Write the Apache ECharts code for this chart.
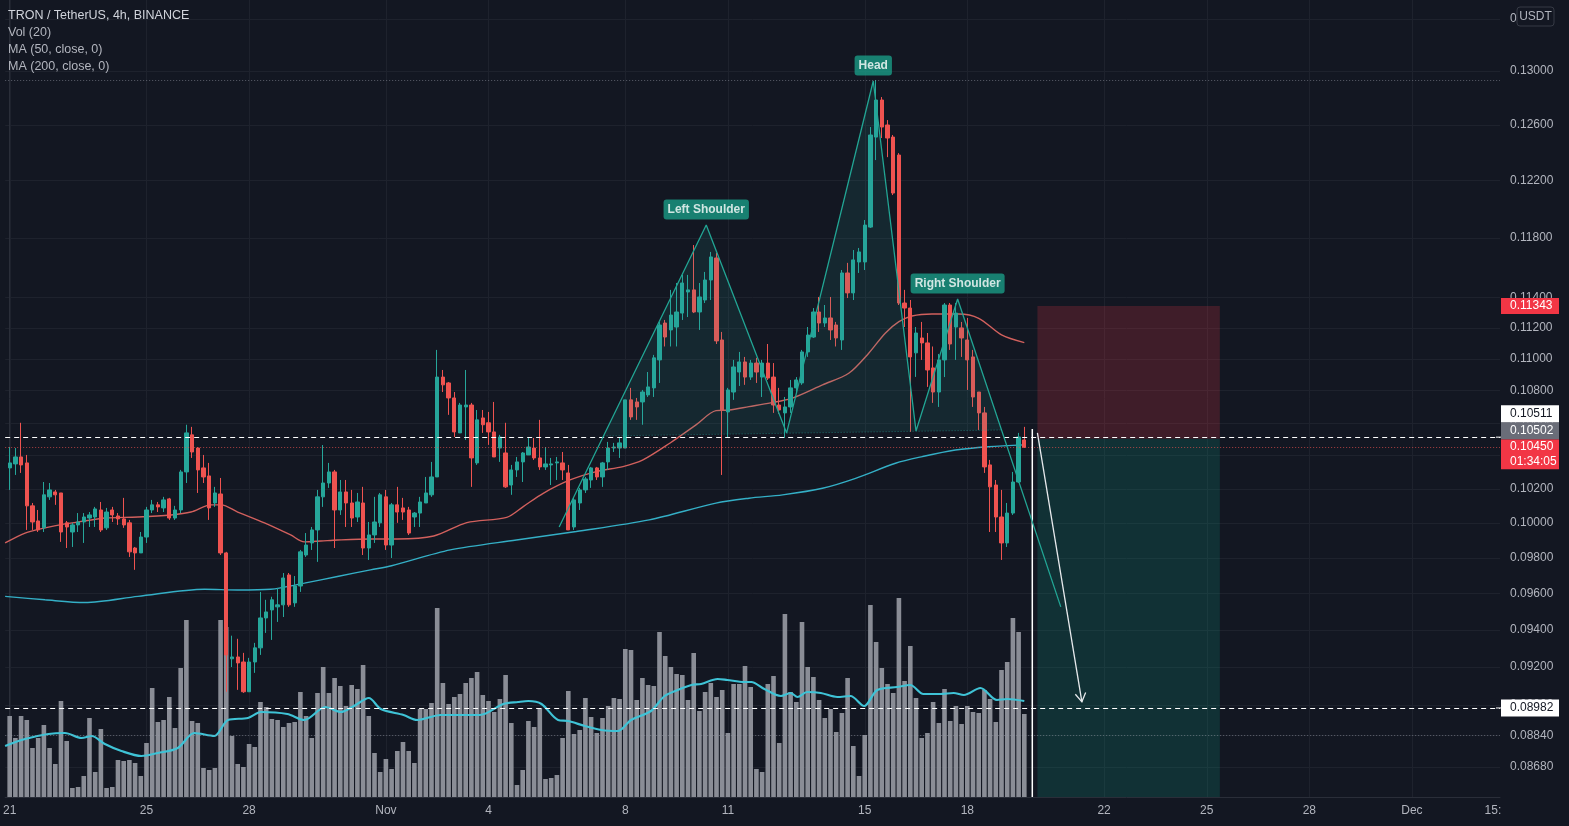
<!DOCTYPE html>
<html>
<head>
<meta charset="utf-8">
<script src="https://cdn.jsdelivr.net/npm/echarts@6.0.0/dist/echarts.min.js"></script>
<style>
html,body{margin:0;padding:0;background:#131722;}
#chart{width:1569px;height:826px;}
</style>
</head>
<body>
<div id="chart"></div>
<script>
// ---------- DATA (TRX/USDT 4h, candle index 0 = 21 Oct 00:00) ----------
const opens = [
.10325,.10349,.10391,.10355,.10100,.10012,.09972,.10153,.10182,.10176,
.10001,.09948,.09989,.10006,.10029,.10035,.10076,.09972,.10076,.10041,
.10024,.10001,.09856,.09828,.09919,.10076,.10106,.10088,.10141,.10029,
.10076,.10301,.10525,.10445,.10325,.10277,.10117,.10170,.09828,.09242,
.09252,.09225,.09067,.09225,.09301,.09464,.09508,.09525,.09536,.09703,
.09547,.09641,.09816,.09885,.09960,.10153,.10235,.10301,.10076,.10182,
.10117,.10035,.10117,.09856,.09931,.10001,.10153,.09873,.10106,.10088,
.10076,.10035,.10058,.10117,.10165,.10271,.10884,.10847,.10753,.10537,
.10697,.10709,.10355,.10629,.10599,.10543,.10445,.10415,.10223,.10313,
.10361,.10403,.10445,.10385,.10331,.10343,.10355,.10355,.10295,.09977,
.10117,.10194,.10253,.10325,.10271,.10361,.10445,.10445,.10445,.10741,
.10728,.10728,.10772,.10816,.10993,.11231,.11186,.11205,.11296,.11435,
.11449,.11303,.11382,.11515,.11663,.11121,.10666,.10790,.10916,.10980,
.10884,.10973,.10884,.10973,.10884,.10709,.10660,.10697,.10816,.10847,
.11044,.11140,.11303,.11231,.11264,.11218,.11121,.11562,.11429,.11636,
.11636,.11874,.12511,.12783,.12599,.12511,.12381,.11362,.11329,.11038,
.11134,.11102,.10942,.10790,.10993,.11349,.11205,.11199,.11121,.11012,
.10790,.10660,.10343,.10223,.10035,.09885,.10058,.10241,.10494
];
const closes = [
.10355,.10391,.10343,.10100,.10006,.09960,.10165,.10194,.10165,.09948,
.09977,.09989,.10006,.10035,.10047,.10082,.09960,.10064,.10047,.10024,
.09989,.09834,.09828,.09919,.10076,.10106,.10094,.10135,.10029,.10076,
.10301,.10537,.10421,.10313,.10271,.10088,.10176,.09828,.09263,.09252,
.09220,.09067,.09225,.09301,.09464,.09497,.09564,.09536,.09686,.09536,
.09641,.09834,.09873,.09960,.10153,.10235,.10301,.10076,.10182,.10117,
.10029,.10123,.09856,.09931,.10006,.10165,.09873,.10106,.10064,.10064,
.09942,.10058,.10123,.10176,.10271,.10884,.10835,.10753,.10543,.10709,
.10709,.10385,.10617,.10587,.10543,.10391,.10512,.10212,.10313,.10361,
.10415,.10451,.10385,.10331,.10349,.10349,.10361,.10313,.09960,.10135,
.10194,.10259,.10325,.10271,.10355,.10445,.10451,.10476,.10741,.10635,
.10697,.10790,.10822,.11006,.11218,.11140,.11283,.11303,.11495,.11449,
.11303,.11402,.11515,.11670,.11115,.10678,.10803,.10948,.10980,.10884,
.10973,.10916,.10973,.10878,.10709,.10678,.10697,.10816,.10866,.11044,
.11153,.11303,.11231,.11264,.11186,.11134,.11562,.11429,.11650,.11704,
.11888,.12526,.12783,.12584,.12504,.12111,.11362,.11329,.11012,.11166,
.11102,.10929,.10790,.10993,.11349,.11095,.11296,.11134,.10993,.10759,
.10660,.10331,.10212,.10035,.09885,.10058,.10241,.10512,.10450
];
const highs = [
.10451,.10445,.10599,.10403,.10117,.10076,.10241,.10235,.10194,.10176,
.10012,.10001,.10058,.10058,.10064,.10094,.10123,.10088,.10094,.10058,
.10147,.10018,.09862,.09948,.10094,.10135,.10123,.10153,.10147,.10100,
.10313,.10587,.10574,.10451,.10403,.10355,.10212,.10265,.09834,.09367,
.09350,.09274,.09247,.09328,.09608,.09564,.09581,.09630,.09714,.09714,
.09697,.09845,.09942,.09977,.10194,.10463,.10355,.10313,.10253,.10253,
.10194,.10176,.10212,.10006,.10153,.10176,.10194,.10117,.10212,.10147,
.10094,.10064,.10153,.10271,.10361,.11057,.10929,.10853,.10790,.10722,
.10929,.10722,.10678,.10678,.10666,.10728,.10525,.10599,.10343,.10391,
.10421,.10512,.10506,.10617,.10451,.10385,.10391,.10421,.10343,.10147,
.10206,.10271,.10331,.10331,.10361,.10482,.10476,.10506,.10741,.10816,
.10753,.10803,.10916,.11025,.11238,.11251,.11449,.11495,.11549,.11549,
.11751,.11495,.11569,.11704,.11697,.11173,.10816,.10993,.11044,.11012,
.10993,.11006,.10993,.11095,.10973,.10816,.10759,.10866,.10884,.11057,
.11205,.11329,.11402,.11349,.11402,.11238,.11582,.11630,.11717,.11731,
.11923,.12584,.12932,.12805,.12635,.12526,.12395,.11449,.11382,.11205,
.11238,.11166,.11079,.11031,.11362,.11362,.11362,.11238,.11264,.11057,
.10790,.10697,.10373,.10253,.10194,.10117,.10301,.10537,.10574
];
const lows = [
.10194,.10283,.10295,.09960,.09960,.09948,.09948,.10135,.10106,.09891,
.09856,.09862,.09948,.09885,.09977,.09977,.09948,.09960,.10006,.09989,
.09972,.09805,.09732,.09828,.09885,.10058,.10064,.10064,.10018,.10018,
.10058,.10235,.10385,.10176,.10235,.10018,.10094,.09816,.09067,.09198,
.09077,.09061,.09067,.09167,.09263,.09382,.09344,.09442,.09469,.09525,
.09525,.09608,.09805,.09845,.09777,.10094,.10206,.09856,.10047,.09977,
.09977,.10006,.09816,.09788,.09885,.09977,.09845,.09799,.10001,.10018,
.09931,.09977,.09977,.10117,.10153,.10271,.10790,.10648,.10512,.10537,
.10494,.10212,.10343,.10537,.10464,.10391,.10361,.10206,.10165,.10271,
.10241,.10403,.10373,.10313,.10313,.10223,.10253,.10253,.09960,.09960,
.10076,.10176,.10206,.10253,.10212,.10313,.10421,.10385,.10445,.10617,
.10617,.10587,.10759,.10759,.10847,.11079,.11079,.11079,.11251,.11270,
.11296,.11186,.11362,.11382,.11095,.10283,.10512,.10741,.10828,.10835,
.10866,.10847,.10759,.10866,.10660,.10654,.10506,.10660,.10790,.10835,
.11012,.11134,.11173,.11205,.11121,.11079,.11057,.11395,.11382,.11562,
.11582,.11868,.12345,.12504,.12366,.12097,.11349,.11205,.10543,.10885,
.10993,.10822,.10722,.10697,.10884,.11057,.10993,.11012,.10803,.10697,
.10555,.10295,.09948,.09948,.09788,.09862,.10047,.10235,.10445
];
// volume (millions TRX)
const volumes = [
81,59,81,77,49,59,72,49,33,96,
56,9,10,21,79,25,68,9,10,37,
36,37,34,21,54,109,75,77,100,69,
129,177,76,74,29,27,29,177,170,61,
33,30,53,50,95,90,78,77,70,74,
75,105,81,59,104,130,104,119,111,91,
112,108,132,81,44,25,38,28,46,55,
46,34,88,88,94,189,114,93,100,103,
114,119,125,102,96,85,98,122,74,12,
27,76,70,89,18,19,22,59,106,63,
67,99,80,64,79,91,99,98,148,147,
97,119,112,111,165,141,130,123,122,97,
144,86,105,114,100,107,64,113,113,131,
110,28,25,113,121,54,183,105,95,175,
130,120,97,79,88,65,84,119,51,21,
62,192,155,129,113,104,199,116,151,99,
59,64,95,74,108,76,91,73,91,85,
84,107,98,75,127,135,179,165,83
];
// moving averages: [candle index, value]
const ma50 = [
[-0.8,.09885],[2.7,.09942],[6.2,.09972],[9.7,.09995],[13.2,.10012],[16.7,.10029],[22.5,.10035],
[28.3,.10047],[31.8,.10064],[35.3,.10106],[37.1,.10106],[40,.10064],[44.7,.10001],[49.3,.09931],
[51.7,.09891],[54.6,.09896],[57.5,.09902],[63.3,.09908],[68,.09908],[74.4,.09925],[80.2,.10002],
[87.2,.10033],[90.1,.10096],[93.6,.10174],[98.3,.10253],[102.9,.10303],[107.6,.10333],[111.1,.10373],
[115.8,.10474],[120.4,.10586],[123.9,.10674],[126.2,.10678],[129.7,.10699],[133.5,.10722],
[137.3,.10752],[142.6,.10835],[147.2,.10908],[150.7,.11036],[153.6,.11165],[156,.11240],
[158.3,.11277],[161.8,.11290],[166.5,.11290],[170,.11262],[174,.11154],[178,.11104]
];
const ma200 = [
[-0.8,.09583],[6.2,.09564],[13.2,.09549],[22.5,.09583],[34.2,.09623],[40,.09619],[45.8,.09623],
[51.7,.09657],[57.5,.09694],[63.3,.09732],[67,.09755],[77.3,.09845],[88.9,.09902],[99.4,.09951],
[112.2,.10018],[123.9,.10116],[129.7,.10145],[135.6,.10165],[142.6,.10204],[148.4,.10263],
[155.4,.10353],[160.1,.10393],[165.9,.10433],[171.7,.10453],[178,.10464]
];
const volMa = [
[-0.8,51],[2.7,58],[6.8,63],[9.7,64],[12.6,59],[14.4,61],[16.7,53],[19.6,46],[23.1,41],[26,44],
[29.5,49],[32.4,64],[35.9,61],[38.3,77],[41.8,79],[44.1,85],[48.7,83],[51.7,77],[55.4,90],[58.1,85],
[60.4,91],[63,99],[65.1,88],[69.1,82],[71.5,77],[75.6,82],[82.5,82],[86.6,93],[89.2,95],[91,96],
[93.3,93],[96.2,77],[98,76],[100.9,71],[103.8,67],[106.7,66],[109,77],[112.5,86],[114.9,101],
[117.2,107],[119.6,112],[121.3,113],[124.2,118],[125.9,117],[128.9,115],[130.1,115],[132.4,108],
[135.3,101],[137,104],[138.2,100],[139.9,105],[142.3,104],[145.2,100],[147.5,101],[149.9,91],
[152.2,107],[155.7,110],[158,112],[160.3,103],[163.3,103],[165.6,104],[167.4,102],[170.3,109],
[173.2,97],[175,98],[178,96]
];
// head & shoulders drawing
const patternPts = [[96.4,.09977],[122.2,.11889],[136.3,.10537],[151.5,.12925],[159.0,.10549],[166.3,.11389],[184.4,.09525]];
const patternNames = ['', 'Left Shoulder', '', 'Head', '', 'Right Shoulder', ''];
const neckline = [[104.2,.10518],[174.0,.10555]];
// short position tool
const entryPrice = 0.10502, stopPrice = 0.11343;
const positionSpan = [180.3, 212.3];
const vLine = [[179.4,.10561]];
const arrowLine = [[180.3,.10537],[188.1,.09014]];
// horizontal lines
const hLineWhite = [0.10511, 0.08982];
const lastPrice = 0.10450, lastTimer = '01:34:05';
const highDotted = 0.12932, volDotted = 0.08840;
// axes ticks
const yTicks = [0.134,0.130,0.126,0.122,0.118,0.114,0.112,0.110,0.108,0.106,0.104,0.102,0.100,0.098,0.096,0.094,0.092,0.090,0.0884,0.0868];
const xTickIdx = [0,24,42,66,84,108,126,150,168,192,210,228,246,260.2];
const xTickText = ['21','25','28','Nov','4','8','11','15','18','22','25','28','Dec','15:'];

// ---------- CHART ----------
const FONT = 'Liberation Sans, Arial, sans-serif';
const XMIN = -0.79, XMAX = 261.45, YMIN = 0.085297, YMAX = 0.13547;
const chart = echarts.init(document.getElementById('chart'));

const candleData = opens.map((o, i) => [i, o, closes[i], lows[i], highs[i]]);
const volData = volumes.map((v, i) => [i, v]);

function hLine(api, cs, price, stroke, dash) {
  const y = Math.round(api.coord([0, price])[1]) + 0.5;
  return {type: 'line', shape: {x1: cs.x, y1: y, x2: cs.x + cs.width, y2: y},
    style: {stroke: stroke, lineWidth: 1, lineDash: dash || null}};
}
function vLineAt(api, cs, idx, stroke) {
  const x = Math.round(api.coord([idx, 0.1])[0]) + 0.5;
  return {type: 'line', shape: {x1: x, y1: cs.y, x2: x, y2: cs.y + cs.height},
    style: {stroke: stroke, lineWidth: 1}};
}

const option = {
  animation: false,
  backgroundColor: '#131722',
  textStyle: {fontFamily: FONT},
  grid: {left: 0, right: 69, top: 0, bottom: 29, containLabel: false},
  xAxis: {
    type: 'value', min: XMIN, max: XMAX,
    axisLine: {show: true, lineStyle: {color: '#2a2e39'}},
    axisTick: {show: false}, splitLine: {show: false},
    axisLabel: {
      customValues: xTickIdx, color: '#b2b5be', fontSize: 12, margin: 8, fontFamily: FONT,
      formatter: v => { const k = xTickIdx.indexOf(v); return k >= 0 ? xTickText[k] : ''; }
    }
  },
  yAxis: [{
    type: 'log', logBase: 10, min: YMIN, max: YMAX, position: 'right',
    axisLine: {show: true, lineStyle: {color: '#2a2e39'}},
    axisTick: {show: false}, splitLine: {show: false},
    axisLabel: {customValues: yTicks, color: '#b2b5be', fontSize: 12, margin: 10, fontFamily: FONT,
      formatter: v => Number(v).toFixed(5)}
  }, {
    type: 'value', min: 0, max: 797, show: false
  }],
  series: [
    { // grid lines
      type: 'custom', data: [[100, 0.1]], silent: true, z: 0, clip: false,
      renderItem: function (params, api) {
        const cs = params.coordSys;
        const ch = yTicks.map(v => hLine(api, cs, v, '#1e222d'))
          .concat(xTickIdx.slice(0, 13).map(v => vLineAt(api, cs, v, '#1e222d')));
        return {type: 'group', children: ch};
      }
    },
    { // volume
      type: 'bar', yAxisIndex: 1, data: volData, barWidth: 4.6, silent: true, z: 1,
      itemStyle: {color: '#9598a1', opacity: 0.92}
    },
    { // volume MA
      type: 'line', yAxisIndex: 1, data: volMa, smooth: 0.3, symbol: 'none', silent: true, z: 2,
      lineStyle: {color: '#3fc3d6', width: 2.2}
    },
    { // position tool boxes
      type: 'custom', data: [[100, 0.1]], silent: true, z: 1,
      renderItem: function (params, api) {
        const a = api.coord([positionSpan[0], stopPrice]);
        const b = api.coord([positionSpan[1], entryPrice]);
        const c = api.coord([positionSpan[1], YMIN]);
        return {type: 'group', children: [
          {type: 'rect', shape: {x: a[0], y: a[1], width: b[0] - a[0], height: b[1] - a[1]}, style: {fill: 'rgba(242,54,69,0.2)'}},
          {type: 'rect', shape: {x: a[0], y: b[1], width: b[0] - a[0], height: c[1] - b[1]}, style: {fill: 'rgba(8,153,129,0.2)'}}
        ]};
      }
    },
    { // MA 200
      type: 'line', data: ma200, smooth: 0.3, symbol: 'none', silent: true, z: 3,
      lineStyle: {color: '#34afc6', width: 1.4}
    },
    { // MA 50
      type: 'line', data: ma50, smooth: 0.3, symbol: 'none', silent: true, z: 3,
      lineStyle: {color: '#d2605d', width: 1.4}
    },
    { // candles
      type: 'candlestick', data: candleData, encode: {x: 0, y: [1, 2, 3, 4]},
      barWidth: 3.8, silent: true, z: 4,
      itemStyle: {color: '#26a69a', color0: '#ef5350', borderColor: '#26a69a', borderColor0: '#ef5350', borderWidth: 1}
    },
    { // H&S fill + neckline
      type: 'custom', data: [[100, 0.1]], silent: true, z: 5,
      renderItem: function (params, api) {
        const poly = [neckline[0]].concat(patternPts.slice(1, 6)).concat([neckline[1]]).map(p => api.coord(p));
        const n0 = api.coord(neckline[0]), n1 = api.coord(neckline[1]);
        return {type: 'group', children: [
          {type: 'polygon', shape: {points: poly}, style: {fill: 'rgba(38,166,154,0.12)'}},
          {type: 'line', shape: {x1: n0[0], y1: n0[1], x2: n1[0], y2: n1[1]}, style: {stroke: 'rgba(38,166,154,0.55)', lineWidth: 1, lineDash: [1, 2]}}
        ]};
      }
    },
    { // horizontal price lines
      type: 'custom', data: [[100, 0.1]], silent: true, z: 6, clip: false,
      renderItem: function (params, api) {
        const cs = params.coordSys;
        return {type: 'group', children: [
          hLine(api, cs, highDotted, 'rgba(150,153,165,0.55)', [1, 2]),
          hLine(api, cs, volDotted, 'rgba(150,153,165,0.55)', [1, 2]),
          hLine(api, cs, lastPrice, 'rgba(239,83,80,0.7)', [1, 2]),
          hLine(api, cs, hLineWhite[0], '#ffffff', [5, 4]),
          hLine(api, cs, hLineWhite[1], '#ffffff', [5, 4])
        ]};
      }
    },
    { // H&S outline
      type: 'line', data: patternPts, symbol: 'none', silent: true, z: 7,
      lineStyle: {color: '#22a594', width: 1.3}
    },
    { // vertical line and arrow
      type: 'custom', data: [[100, 0.1]], silent: true, z: 7,
      renderItem: function (params, api) {
        const v0 = api.coord(vLine[0]), v1 = api.coord([vLine[0][0], YMIN]);
        const a = api.coord(arrowLine[0]), b = api.coord(arrowLine[1]);
        const ang = Math.atan2(a[1] - b[1], a[0] - b[0]);
        const L = 10, s = 0.55;
        const h1 = [b[0] + L * Math.cos(ang + s), b[1] + L * Math.sin(ang + s)];
        const h2 = [b[0] + L * Math.cos(ang - s), b[1] + L * Math.sin(ang - s)];
        return {type: 'group', children: [
          {type: 'line', shape: {x1: v0[0], y1: v0[1], x2: v1[0], y2: v1[1]}, style: {stroke: '#ffffff', lineWidth: 1.5}},
          {type: 'line', shape: {x1: a[0], y1: a[1], x2: b[0], y2: b[1]}, style: {stroke: '#e8eaed', lineWidth: 1.3}},
          {type: 'polyline', shape: {points: [h1, b, h2]}, style: {stroke: '#e8eaed', lineWidth: 1.3, fill: null}}
        ]};
      }
    },
    { // H&S labels
      type: 'scatter', silent: true, z: 9, symbolSize: 1,
      itemStyle: {color: 'rgba(0,0,0,0)'},
      data: patternPts.map((p, i) => ({value: [p[0], p[1]], name: patternNames[i]})).filter(d => d.name),
      label: {
        show: true, position: 'top', distance: 5, formatter: p => p.name,
        backgroundColor: '#1a9b86', borderRadius: 3, padding: [4, 4, 4, 4],
        color: '#ffffff', fontWeight: 'bold', fontSize: 12, lineHeight: 12, fontFamily: FONT
      }
    }
  ]
};
chart.setOption(option);

// ---------- overlay texts: legend, price tags ----------
const yPix = v => chart.convertToPixel({yAxisIndex: 0}, v);
const g = [];
const legend = [['TRON / TetherUS, 4h, BINANCE', '#d1d4dc'], ['Vol (20)', '#b2b5be'], ['MA (50, close, 0)', '#b2b5be'], ['MA (200, close, 0)', '#b2b5be']];
legend.forEach((l, k) => g.push({type: 'text', x: 8, y: 16 + 17 * k, z: 100,
  style: {text: l[0], fill: l[1], font: '12.5px Liberation Sans, Arial, sans-serif', verticalAlign: 'middle'}}));

function tag(top, h, bg, lines, fg) {
  g.push({type: 'rect', shape: {x: 1501, y: top, width: 58, height: h}, style: {fill: bg}, z: 110});
  lines.forEach((t, k) => g.push({type: 'text', x: 1510, y: top + h / lines.length * (k + 0.5), z: 111,
    style: {text: t, fill: fg, font: '12px Liberation Sans, Arial, sans-serif', verticalAlign: 'middle'}}));
}
const ySL = yPix(stopPrice);
tag(ySL - 8, 16, '#f23645', [stopPrice.toFixed(5)], '#ffffff');
const yLast = yPix(lastPrice);
const redTop = yLast - 8;
tag(redTop, 30, '#f23645', [lastPrice.toFixed(5), lastTimer], '#ffffff');
tag(redTop - 17, 17, '#6a6d78', [entryPrice.toFixed(5)], '#ffffff');
tag(redTop - 34, 17, '#ffffff', [hLineWhite[0].toFixed(5)], '#131722');
const yTP = yPix(hLineWhite[1]);
tag(yTP - 8.5, 17, '#ffffff', [hLineWhite[1].toFixed(5)], '#131722');
// white ticks on axis for horizontal lines
[yPix(hLineWhite[0]), yTP].forEach(y => g.push({type: 'line', z: 112, shape: {x1: 1496, y1: y, x2: 1501, y2: y}, style: {stroke: '#ffffff', lineWidth: 1}}));
// USDT currency box
g.push({type: 'rect', z: 110, shape: {x: 1517, y: 7, width: 37, height: 19, r: 3}, style: {fill: '#131722', stroke: '#363a45', lineWidth: 1}});
g.push({type: 'text', z: 111, x: 1535.5, y: 16.5, style: {text: 'USDT', fill: '#b2b5be', font: '12px Liberation Sans, Arial, sans-serif', align: 'center', verticalAlign: 'middle'}});
chart.setOption({graphic: g});
</script>
</body>
</html>
